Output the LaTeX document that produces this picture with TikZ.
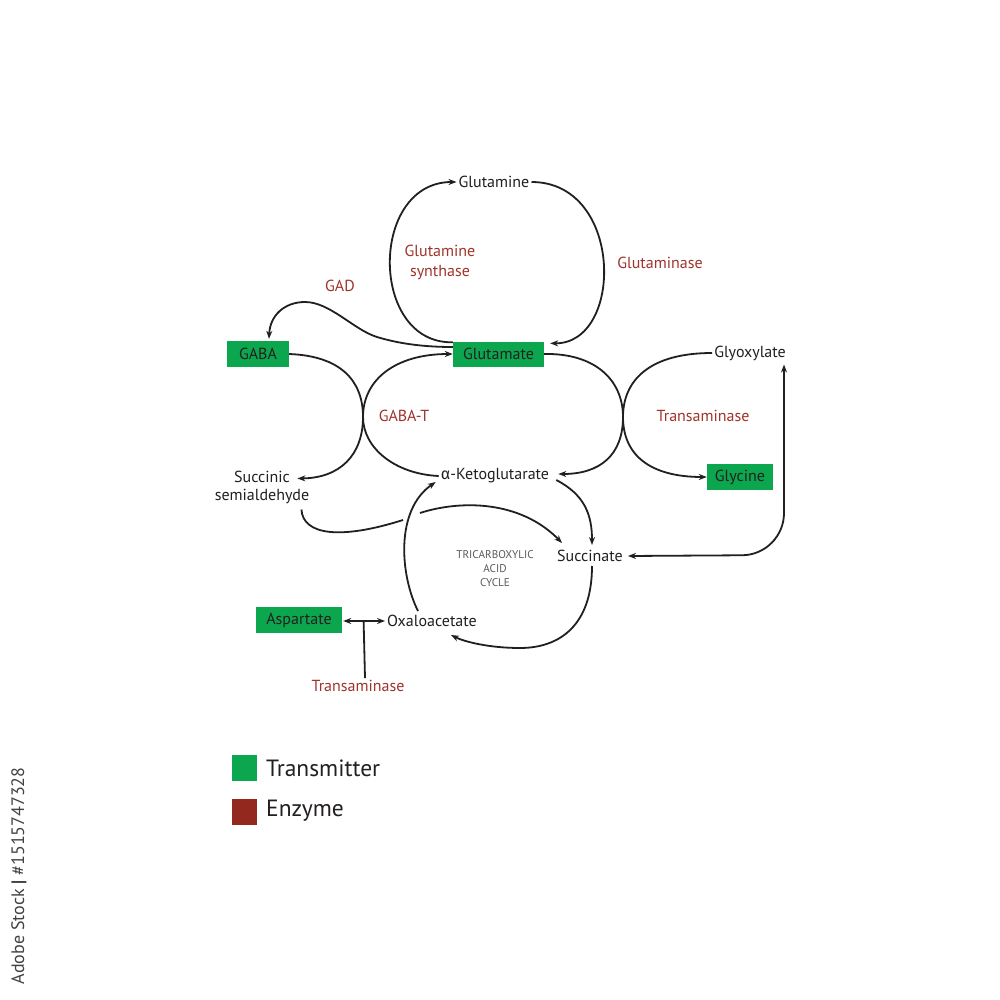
\documentclass[tikz,border=0pt]{standalone}
\usepackage{fontspec}
\setmainfont{PT Sans}
\newfontfamily\greekfont{Fira Sans}
\usetikzlibrary{arrows.meta,calc}
\definecolor{txt}{HTML}{231F20}
\definecolor{tgreen}{HTML}{0BA64E}
\definecolor{ered}{HTML}{A0342A}
\definecolor{lred}{HTML}{93291E}
\definecolor{tcagray}{HTML}{5A5A5A}
\tikzset{
  lbl/.style={inner sep=2pt, text=txt, font=\fontsize{16}{18}\selectfont},
  enz/.style={inner sep=2pt, text=ered, font=\fontsize{16}{20}\selectfont, align=center},
  tbox/.style={fill=tgreen, inner sep=0pt, text=txt, font=\fontsize{16}{18}\selectfont, minimum height=25pt},
  conn/.style={line width=1.8pt, draw=txt},
  arr/.style={conn, -{Stealth[length=8pt,width=6pt]}},
  darr/.style={conn, {Stealth[length=8pt,width=6pt]}-{Stealth[length=8pt,width=6pt]}},
}
\begin{document}
\begin{tikzpicture}[x=1pt,y=-1pt]
\fill[white] (0,0) rectangle (1000,1000);
\useasboundingbox (0,0) rectangle (1000,1000);

% nodes
\node[lbl] (gln) at (494,182) {Glutamine};
\node[tbox, minimum width=91pt] (glu) at (498.5,354) {Glutamate};
\node[tbox, minimum width=62pt, minimum height=26pt] (gaba) at (258,354) {GABA};
\node[lbl] (glyox) at (750,353) {Glyoxylate};
\node[tbox, minimum width=66pt, minimum height=26pt] (gly) at (740,477) {Glycine};
\node[lbl, align=center] (ssa) at (262,487) {Succinic\\semialdehyde};
\node[lbl] (akg) at (495,476) {{\greekfont α}-Ketoglutarate};
\node[lbl] (succ) at (590,556) {Succinate};
\node[lbl] (oaa) at (432,621) {Oxaloacetate};
\node[tbox, minimum width=86pt, minimum height=26pt] (asp) at (299,620) {Aspartate};

\node[enz] (gs) at (440,262) {Glutamine\\synthase};
\node[enz] (gase) at (660,263) {Glutaminase};
\node[enz] (gad) at (340,286) {GAD};
\node[enz] (gabat) at (404,416) {GABA-T};
\node[enz] (tam1) at (703,416) {Transaminase};
\node[enz] (tam2) at (358,686) {Transaminase};
\node[align=center, text=tcagray, font=\fontsize{11.2}{14}\selectfont] (tca) at (495,569) {TRICARBOXYLIC\\ACID\\CYCLE};

% glutamine loop
\draw[arr] ($(glu.north west)+(0,1)$) .. controls (369,344) and (369,182) .. (gln.west);
\draw[arr] (gln.east) .. controls (624,182) and (624,344) .. ($(glu.north east)+(6,2)$);

% GAD
\draw[arr] ($(glu.west)+(0,-7)$) .. controls (425,347) and (400,344) .. (377,337)
  .. controls (354,330) and (330,302) .. (305,302)
  .. controls (285,302) and (270,315) .. ($(gaba.north)+(11,-2)$);

% GABA-T
\draw[arr] (gaba.east) .. controls (340,356) and (363,380) .. (363,417)
  .. controls (363,455) and (340,478) .. ($(ssa.north east)+(-14,10)$);
\draw[arr] (akg.west) .. controls (395,474) and (363,448) .. (363,417)
  .. controls (363,380) and (395,354) .. (glu.west);

% Transaminase (right)
\draw[arr] (glu.east) .. controls (595,353) and (623,380) .. (623,417)
  .. controls (623,455) and (600,474) .. ($(akg.east)+(7,-2)$);
\draw[arr] (glyox.west) .. controls (650,353) and (623,380) .. (623,417)
  .. controls (623,455) and (650,477) .. (gly.west);

% succinate <-> glyoxylate
\draw[darr, rounded corners=42pt] ($(succ.east)+(3,0)$) -- (784,555) -- ($(glyox.south)+(34,2)$);

% TCA cycle
\draw[arr] ($(akg.east)+(5,4)$) .. controls (585,495) and (592,515) .. ($(succ.north)+(2,-3)$);
\draw[arr] ($(succ.south)+(2,2)$) .. controls (592,625) and (560,648) .. (520,648)
  .. controls (490,648) and (465,642) .. ($(oaa.south east)+(-28,6)$);
\draw[arr] ($(oaa.north)+(-14,-2)$) .. controls (400,575) and (395,510) .. ($(akg.west)+(-3,6)$);

% succinic semialdehyde -> succinate (broken)
\draw[conn] ($(ssa.south east)+(-10,4)$) .. controls (303,535) and (340,540) .. (403,520);
\draw[arr] (420,513) .. controls (460,500) and (520,500) .. ($(succ.north west)+(7,-5)$);

% aspartate <-> oxaloacetate
\draw[darr] ($(asp.east)+(1,1)$) -- (oaa.west);
\draw[conn] ($(asp.east)!0.5!(oaa.west)+(0,1)$) -- ($(tam2.north)+(7,0)$);

% legend
\fill[tgreen] (232,755) rectangle (257,781);
\node[anchor=west, text=txt, font=\fontsize{23.5}{26}\selectfont, inner sep=0pt] (legt) at (266,768) {Transmitter};
\fill[lred] (232,799) rectangle (257,825);
\node[anchor=west, text=txt, font=\fontsize{23.5}{26}\selectfont, inner sep=0pt] (lege) at (266,811) {Enzyme};

% vertical stock id
\node[rotate=90, text=txt!85, font=\fontsize{18}{20}\selectfont, inner sep=0pt] (wm) at (19,876) {Adobe Stock \textbf{|} \#1515747328};
\end{tikzpicture}
\end{document}
